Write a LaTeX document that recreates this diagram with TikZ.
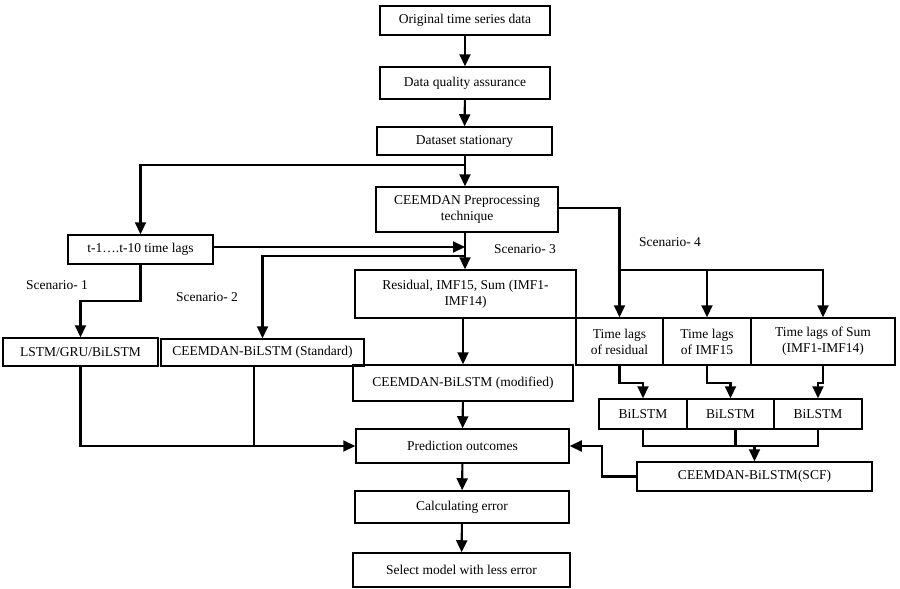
\documentclass[tikz,border=0pt]{standalone}
\usepackage{fontspec}
\setmainfont{Liberation Serif}
\usetikzlibrary{arrows.meta,calc}
\begin{document}
\begin{tikzpicture}[x=1pt,y=-1pt,
  box/.style={draw=black,line width=1.5pt,inner sep=1pt,align=center,
    font=\fontsize{13.5}{16}\selectfont},
  conn/.style={draw=black,line width=2.1pt},
  arr/.style={conn,-{Triangle[length=12pt,width=11pt]}},
  lbl/.style={font=\fontsize{13.5}{16}\selectfont,inner sep=0pt}]
\useasboundingbox (0,0) rectangle (900,589);
% boxes
\node[box,minimum width=170pt,minimum height=29pt] (orig) at (465,20.5) {Original time series data};
\node[box,minimum width=170pt,minimum height=32pt] (dqa) at (465,83) {Data quality assurance};
\node[box,minimum width=175pt,minimum height=28pt] (ds) at (464.5,141) {Dataset stationary};
\node[box,minimum width=182pt,minimum height=45pt] (ceem) at (467,209.5) {CEEMDAN Preprocessing\\technique};
\node[box,minimum width=145pt,minimum height=29pt] (tlag) at (140.5,249.5) {t-1….t-10 time lags};
\node[box,minimum width=221pt,minimum height=48pt] (resid) at (465.5,294) {Residual, IMF15, Sum (IMF1-\\IMF14)};
\node[box,minimum width=87pt,minimum height=47pt] (tl1) at (619.5,341.5) {Time lags\\of residual};
\node[box,minimum width=88pt,minimum height=47pt] (tl2) at (707,341.5) {Time lags\\of IMF15};
\node[box,minimum width=144pt,minimum height=47pt] (tl3) at (823,341.5) {Time lags of Sum\\(IMF1-IMF14)};
\node[box,minimum width=155pt,minimum height=28pt] (lstm) at (80.5,352) {LSTM/GRU/BiLSTM};
\node[box,minimum width=203pt,minimum height=27pt] (std) at (262.5,352.5) {CEEMDAN-BiLSTM (Standard)};
\node[box,minimum width=220pt,minimum height=36pt] (mod) at (463,383) {CEEMDAN-BiLSTM (modified)};
\node[box,minimum width=88pt,minimum height=30pt] (bi1) at (643,414) {BiLSTM};
\node[box,minimum width=87pt,minimum height=30pt] (bi2) at (730.5,414) {BiLSTM};
\node[box,minimum width=88pt,minimum height=30pt] (bi3) at (818,414) {BiLSTM};
\node[box,minimum width=213pt,minimum height=34pt] (pred) at (462.5,446) {Prediction outcomes};
\node[box,minimum width=235pt,minimum height=29pt] (scf) at (754.5,476.5) {CEEMDAN-BiLSTM(SCF)};
\node[box,minimum width=214pt,minimum height=32pt] (calc) at (462,507) {Calculating error};
\node[box,minimum width=217pt,minimum height=34pt] (sel) at (461.5,570) {Select model with less error};
% labels
\node[lbl] (s1) at (57,285) {Scenario- 1};
\node[lbl] (s2) at (207,297) {Scenario- 2};
\node[lbl] (s3) at (525,249) {Scenario- 3};
\node[lbl] (s4) at (670,242) {Scenario- 4};
% junction coordinates
\coordinate (j1) at (465,165);
\coordinate (j2) at (465,247);
\coordinate (j3) at (465,256);
% main spine
\draw[arr] (orig) -- (dqa);
\draw[arr] (dqa) -- (ds);
\draw[arr] (ds.south -| j1) -- (ceem.north -| j1);
\draw[arr] (j1) -| (tlag.north);
\draw[arr] (ceem.south -| j1) -- (resid.north -| j1);
\draw[arr] (tlag.east |- j2) -- (j2);
\draw[arr] (j3) -| (std.north);
% scenario 4
\draw[arr] (ceem.east |- 0,208) -| (tl1.north);
\draw[arr] (tl1.north |- 0,270) -| (tl2.north);
\draw[arr] (tl2.north |- 0,270) -| (tl3.north);
\draw[arr] (tl1.south) -- ++(0,17) -| (bi1.north);
\draw[arr] (tl2.south) -- ++(0,17) -| (bi2.north);
\draw[arr] (tl3.south) -- ++(0,17) -| (bi3.north);
\draw[conn] (bi1.south) -- ++(0,16) -| (bi3.south);
\draw[conn] ([xshift=5pt]bi2.south) -- ++(0,17);
\draw[arr] (scf.north |- 0,445) -- (scf.north);
\draw[arr] (scf.west) -- ++(-34,0) |- (pred.east);
% scenario 1
\draw[arr] (tlag.south) -- ++(0,36.5) -| (lstm.north);
\draw[arr] (lstm.south) |- (pred.west);
\draw[conn] ([xshift=-8.5pt]std.south) -- ([xshift=-8.5pt]std.south |- pred.west);
% lower spine
\draw[arr] (resid.south -| 463,0) -- (mod.north -| 463,0);
\draw[arr] (mod) -- (pred);
\draw[arr] (pred) -- (calc);
\draw[arr] (calc) -- (sel);
\end{tikzpicture}
\end{document}
